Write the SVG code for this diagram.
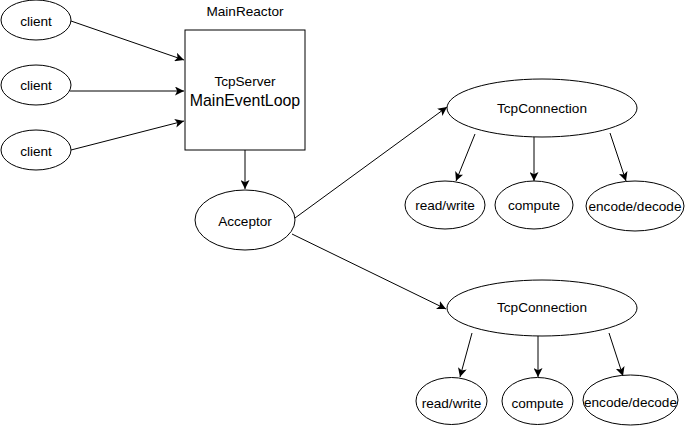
<svg xmlns="http://www.w3.org/2000/svg" width="685" height="426" viewBox="0 0 685 426">
  <style>
    .n { fill: #ffffff; stroke: #000000; stroke-width: 1; }
    .t { font-family: "Liberation Sans", Arial, sans-serif; font-size: 13.6px; fill: #000000; text-anchor: middle; dominant-baseline: central; }
    .big { font-size: 15.9px; }
    .e { fill: none; stroke: #000000; stroke-width: 1; marker-end: url(#arrow); }
  </style>
  <defs>
    <marker id="arrow" markerUnits="userSpaceOnUse" markerWidth="10" markerHeight="9" refX="9" refY="4.5" orient="auto">
      <path d="M0,0 L9,4.5 L0,9 L2.2,4.5 Z" fill="#000000"/>
    </marker>
  </defs>
  <rect width="685" height="426" fill="#ffffff"/>

  <g id="edges">
    <line class="e" x1="71" y1="21" x2="184" y2="60"/>
    <line class="e" x1="70" y1="91" x2="184" y2="91"/>
    <line class="e" x1="71" y1="150" x2="184" y2="121"/>
    <line class="e" x1="245" y1="150" x2="245" y2="189"/>
    <line class="e" x1="295" y1="218" x2="447" y2="107"/>
    <line class="e" x1="292" y1="234" x2="446" y2="309"/>
    <line class="e" x1="475" y1="134" x2="456" y2="181"/>
    <line class="e" x1="534" y1="137" x2="534" y2="181"/>
    <line class="e" x1="610" y1="133" x2="626" y2="181"/>
    <line class="e" x1="472" y1="333" x2="460" y2="377"/>
    <line class="e" x1="538" y1="336" x2="538" y2="377"/>
    <line class="e" x1="609" y1="333" x2="623" y2="376"/>
  </g>

  <g id="client1">
    <ellipse class="n" cx="36" cy="20" rx="35" ry="20"/>
    <text class="t" x="36" y="21">client</text>
  </g>
  <g id="client2">
    <ellipse class="n" cx="36" cy="85" rx="35" ry="20"/>
    <text class="t" x="36" y="85">client</text>
  </g>
  <g id="client3">
    <ellipse class="n" cx="36" cy="150" rx="35" ry="20"/>
    <text class="t" x="36" y="151">client</text>
  </g>

  <g id="mainReactor">
    <text class="t" x="245" y="11">MainReactor</text>
    <rect class="n" x="185" y="30" width="120" height="120"/>
    <text class="t" x="245" y="81">TcpServer</text>
    <text class="t big" x="245" y="100">MainEventLoop</text>
  </g>

  <g id="acceptor">
    <ellipse class="n" cx="245" cy="220" rx="50" ry="30"/>
    <text class="t" x="245" y="221">Acceptor</text>
  </g>

  <g id="tcpConnection1">
    <ellipse class="n" cx="542" cy="108" rx="95" ry="29"/>
    <text class="t" x="542" y="108">TcpConnection</text>
  </g>
  <g id="readwrite1">
    <ellipse class="n" cx="445" cy="205" rx="40" ry="24"/>
    <text class="t" x="445" y="205">read/write</text>
  </g>
  <g id="compute1">
    <ellipse class="n" cx="534" cy="205" rx="39" ry="24"/>
    <text class="t" x="534" y="205">compute</text>
  </g>
  <g id="encode1">
    <ellipse class="n" cx="635" cy="206" rx="49" ry="25"/>
    <text class="t" x="635" y="206">encode/decode</text>
  </g>

  <g id="tcpConnection2">
    <ellipse class="n" cx="542" cy="308" rx="95" ry="28"/>
    <text class="t" x="542" y="307">TcpConnection</text>
  </g>
  <g id="readwrite2">
    <ellipse class="n" cx="451.5" cy="401" rx="35.5" ry="23.5"/>
    <text class="t" x="451.5" y="403">read/write</text>
  </g>
  <g id="compute2">
    <ellipse class="n" cx="537.5" cy="401" rx="35.5" ry="23.5"/>
    <text class="t" x="537.5" y="403">compute</text>
  </g>
  <g id="encode2">
    <ellipse class="n" cx="630.5" cy="400" rx="47.5" ry="25"/>
    <text class="t" x="630.5" y="402">encode/decode</text>
  </g>
</svg>
